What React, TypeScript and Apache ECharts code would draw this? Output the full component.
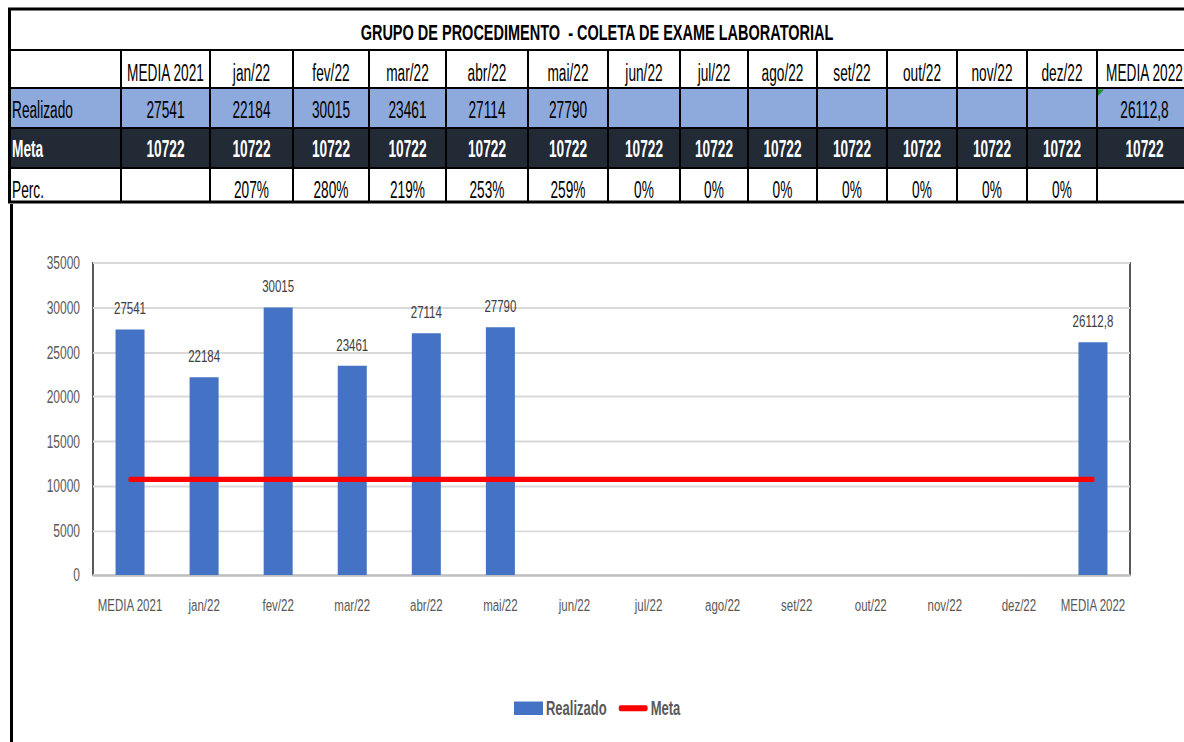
import React, { useEffect, useRef } from "react";
import * as echarts from "echarts";

const title = "GRUPO DE PROCEDIMENTO  - COLETA DE EXAME LABORATORIAL";
const categories = ["MEDIA 2021", "jan/22", "fev/22", "mar/22", "abr/22", "mai/22", "jun/22", "jul/22", "ago/22", "set/22", "out/22", "nov/22", "dez/22", "MEDIA 2022"];
const realizado: (number | null)[] = [27541, 22184, 30015, 23461, 27114, 27790, null, null, null, null, null, null, null, 26112.8];
const meta: number[] = [10722, 10722, 10722, 10722, 10722, 10722, 10722, 10722, 10722, 10722, 10722, 10722, 10722, 10722];
const perc: string[] = ["", "207%", "280%", "219%", "253%", "259%", "0%", "0%", "0%", "0%", "0%", "0%", "0%", ""];
const rowLabels = ["Realizado", "Meta", "Perc."];
const yMin = 0;
const yMax = 35000;
const yStep = 5000;

const FONT = "'Liberation Sans', Arial, sans-serif";
const H = 495;
const S = 742 / H;
const Y = (v: number) => v / S;

const colX = [8, 121, 210, 293, 369, 446, 528, 608, 680, 748, 817, 887, 957, 1027, 1097, 1192];
const rowY = [9, 50, 88, 128, 168, 202];
const textY = [32, 72, 109, 148, 189];

const fmt = (v: number | null) => (v == null ? "" : String(v).replace(".", ","));

function txt(x: number, yRef: number, s: string, o: any = {}) {
  return {
    type: "text",
    x,
    y: Y(yRef),
    scaleX: o.sx ?? 0.83,
    silent: true,
    z: 10,
    style: {
      text: s,
      fill: o.fill ?? "#000000",
      fontSize: o.size ?? 16.5,
      fontFamily: FONT,
      fontWeight: o.bold ? "bold" : "normal",
      textAlign: o.align ?? "center",
      textVerticalAlign: "middle",
      verticalAlign: "middle",
    },
  };
}

function buildTable() {
  const els: any[] = [];
  els.push({ type: "rect", silent: true, shape: { x: 8, y: Y(88), width: 1184, height: Y(128) - Y(88) }, style: { fill: "#8EA9DB" } });
  els.push({ type: "rect", silent: true, shape: { x: 8, y: Y(128), width: 1184, height: Y(168) - Y(128) }, style: { fill: "#222A35" } });
  rowY.forEach((ry, i) =>
    els.push({
      type: "line",
      silent: true,
      z: 5,
      shape: { x1: 8, y1: Y(ry), x2: 1192, y2: Y(ry) },
      style: { stroke: "#000000", lineWidth: i === 0 || i === rowY.length - 1 ? 2 : 1.4 },
    })
  );
  els.push({ type: "line", silent: true, z: 5, shape: { x1: 9.5, y1: Y(8), x2: 9.5, y2: Y(203) }, style: { stroke: "#000000", lineWidth: 3 } });
  for (let i = 1; i < colX.length - 1; i++) {
    els.push({ type: "line", silent: true, z: 5, shape: { x1: colX[i], y1: Y(50), x2: colX[i], y2: Y(202) }, style: { stroke: "#000000", lineWidth: 2 } });
  }
  els.push({ type: "line", silent: true, z: 5, shape: { x1: 11.5, y1: Y(204), x2: 11.5, y2: H }, style: { stroke: "#000000", lineWidth: 3 } });
  els.push({
    type: "polygon",
    silent: true,
    z: 6,
    shape: { points: [[1098, Y(89.5)], [1104, Y(89.5)], [1098, Y(96)]] },
    style: { fill: "#1E8C2E" },
  });

  els.push(txt(597, textY[0], title, { bold: true, size: 14.5, sx: 1 }));
  categories.forEach((c, i) => {
    const cx = (colX[i + 1] + colX[i + 2]) / 2;
    els.push(txt(cx, textY[1], c));
    if (realizado[i] != null) els.push(txt(cx, textY[2], fmt(realizado[i])));
    els.push(txt(cx, textY[3], String(meta[i]), { bold: true, fill: "#FFFFFF" }));
    if (perc[i]) els.push(txt(cx, textY[4], perc[i]));
  });
  els.push(txt(12, textY[2], rowLabels[0], { align: "left" }));
  els.push(txt(12, textY[3], rowLabels[1], { align: "left", bold: true, fill: "#FFFFFF" }));
  els.push(txt(12, textY[4], rowLabels[2], { align: "left" }));
  return els;
}

export default function App() {
  const ref = useRef<HTMLDivElement>(null);
  useEffect(() => {
    document.body.style.margin = "0";
    if (!ref.current) return;
    const chart = echarts.init(ref.current, undefined, { renderer: "svg" });
    chart.setOption({
      animation: false,
      backgroundColor: "#FFFFFF",
      grid: {
        left: 93,
        right: 1184 - 1130,
        top: Y(263),
        bottom: H - Y(575),
        show: true,
        borderColor: "#000000",
        borderWidth: 1.3,
        containLabel: false,
      },
      legend: {
        data: [
          { name: "Realizado", icon: "rect" },
          { name: "Meta", icon: "path://M2,0 H28 A2,2 0 0 1 28,4 H2 A2,2 0 0 1 2,0 Z" },
        ],
        left: 514,
        top: Y(709) - 7,
        padding: 0,
        itemWidth: 29,
        itemHeight: 9,
        itemGap: 12,
        textStyle: { fontFamily: FONT, fontWeight: "bold", fontSize: 13, color: "#595959", padding: [0, 0, 0, -2] },
      },
      xAxis: {
        type: "category",
        data: categories,
        axisTick: { show: false },
        axisLine: { lineStyle: { color: "#BFBFBF", width: 1.6 } },
        axisLabel: { interval: 0, margin: 14, fontFamily: FONT, fontSize: 11.5, color: "#595959" },
      },
      yAxis: {
        type: "value",
        min: yMin,
        max: yMax,
        interval: yStep,
        axisLine: { show: false },
        axisTick: { show: false },
        axisLabel: { margin: 13, fontFamily: FONT, fontSize: 12, color: "#595959", formatter: (v: number) => String(v) },
        splitLine: { lineStyle: { color: "#D9D9D9", width: 1.3 } },
      },
      series: [
        {
          name: "Realizado",
          type: "bar",
          data: realizado,
          barWidth: 29,
          itemStyle: { color: "#4472C4" },
          label: {
            show: true,
            position: "top",
            distance: 8,
            fontFamily: FONT,
            fontSize: 11.5,
            color: "#404040",
            formatter: (p: any) => fmt(p.value),
          },
        },
        {
          name: "Meta",
          type: "line",
          data: meta,
          symbol: "none",
          showSymbol: false,
          itemStyle: { color: "#FF0000" },
          lineStyle: { color: "#FF0000", width: 3.4, cap: "round" },
          z: 5,
        },
      ],
      graphic: buildTable(),
    });
    return () => chart.dispose();
  }, []);
  return (
    <div style={{ width: 1184, height: 742, overflow: "hidden", position: "relative", background: "#fff" }}>
      <div
        ref={ref}
        style={{ width: 1184, height: H, transform: `scaleY(${S})`, transformOrigin: "0 0" }}
      />
    </div>
  );
}
